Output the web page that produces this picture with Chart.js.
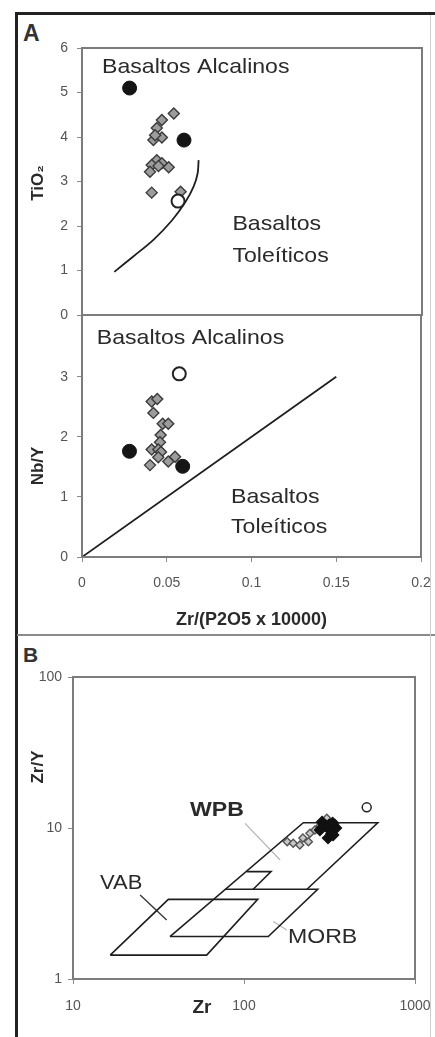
<!DOCTYPE html>
<html>
<head>
<meta charset="utf-8">
<script src="https://cdn.jsdelivr.net/npm/chart.js@4.4.1/dist/chart.umd.min.js"></script>
<style>
  body { margin: 0; background: #fff; }
  #page { position: relative; width: 435px; height: 1037px; overflow: hidden; font-family: "Liberation Sans", Arial, sans-serif; }
  #page canvas { position: absolute; left: 0; }
  .rule { position: absolute; background: #222; }
  .tag { position: absolute; font-weight: bold; color: #333; line-height: 1; }
</style>
</head>
<body>
<div id="page">
  <div class="rule" style="left:15px;top:12px;width:420px;height:3px"></div>
  <div class="rule" style="left:15px;top:12px;width:3px;height:1025px"></div>
  <div class="rule" style="left:17px;top:634px;width:418px;height:2px;background:#8a8a8a"></div>
  <div class="rule" style="left:430px;top:15px;width:1px;height:1022px;background:#cfcfcf"></div>
  <div class="tag" style="left:23px;top:22px;font-size:23px">A</div>
  <div class="tag" style="left:23px;top:644px;font-size:21px">B</div>
  <canvas id="cA1" width="435" height="330" style="top:0"></canvas>
  <canvas id="cA2" width="435" height="340" style="top:300px"></canvas>
  <canvas id="cB" width="435" height="397" style="top:640px"></canvas>
</div>
<script>
// ---- data: panel A (top) TiO2 vs Zr/(P2O5 x 10000)
const tiDiamondX = [0.054, 0.047, 0.044, 0.042, 0.047, 0.043, 0.044, 0.041, 0.040, 0.047, 0.051, 0.045, 0.041, 0.058]
const tiDiamondY = [4.53, 4.38, 4.20, 3.93, 3.99, 4.04, 3.48, 3.37, 3.22, 3.41, 3.32, 3.35, 2.75, 2.77]
const tiFilledX = [0.028, 0.060]
const tiFilledY = [5.10, 3.93]
const tiOpenX = [0.0565]
const tiOpenY = [2.56]
const tiCurveX = [0.019, 0.030, 0.042, 0.053, 0.061, 0.0657, 0.068, 0.0686]
const tiCurveY = [0.97, 1.31, 1.69, 2.13, 2.55, 2.89, 3.18, 3.48]
const tiTicks = [0, 1, 2, 3, 4, 5, 6]

// ---- data: panel A (bottom) Nb/Y vs Zr/(P2O5 x 10000)
const nbDiamondX = [0.0411, 0.0444, 0.0421, 0.0476, 0.0509, 0.0464, 0.046, 0.0411, 0.045, 0.0466, 0.045, 0.0401, 0.0509, 0.0549]
const nbDiamondY = [2.59, 2.63, 2.40, 2.22, 2.22, 2.03, 1.91, 1.79, 1.79, 1.75, 1.66, 1.53, 1.59, 1.67]
const nbFilledX = [0.028, 0.0594]
const nbFilledY = [1.76, 1.51]
const nbOpenX = [0.0574]
const nbOpenY = [3.05]
const nbLineX = [0, 0.15]
const nbLineY = [0, 3.0]
const nbTicks = [0, 1, 2, 3]
const ratioTicks = [0, 0.05, 0.1, 0.15, 0.2]

// ---- data: panel B Zr/Y vs Zr (log-log)
const zrDiamondX = [179, 194, 212, 221, 238, 243, 260, 278, 305, 341]
const zrDiamondY = [8.12, 7.92, 7.71, 8.59, 8.12, 9.22, 9.70, 10.3, 11.6, 10.7]
const zrBlackX = [286, 302, 319, 332, 310, 278, 345, 325, 315, 330]
const zrBlackY = [10.96, 10.3, 9.7, 8.99, 8.59, 9.7, 10.0, 9.2, 10.5, 10.8]
const zrOpenX = [522]
const zrOpenY = [13.7]
const wpbX = [36.9, 222.3, 605.6, 233.4]
const wpbY = [1.91, 10.84, 10.84, 3.93]
const morbX = [77.4, 269.8, 138.7, 36.9]
const morbY = [3.93, 3.93, 1.91, 1.91]
const morbTopX = [113.2, 143.9, 103.7]
const morbTopY = [3.93, 5.14, 5.14]
const vabX = [16.5, 60.5, 120.3, 36.1, 16.5]
const vabY = [1.44, 1.44, 3.37, 3.37, 1.44]
const wpbPointerX = [101.4, 162.6]
const wpbPointerY = [10.74, 6.14]
const vabPointerX = [24.7, 35.3]
const vabPointerY = [3.6, 2.46]
const morbPointerX = [148.3, 177.8]
const morbPointerY = [2.4, 2.11]
const zrTicks = [10, 100, 1000]
const zryTicks = [1, 10, 100]

const FONT = '"Liberation Sans", Arial, sans-serif'
const pts = (xs, ys) => xs.map((x, i) => ({ x, y: ys[i] }))

// frame + free text (stretched a bit like the scanned original)
const notesPlugin = {
  id: 'notes',
  afterDatasetsDraw(chart, args, opts) {
    const ctx = chart.ctx, a = chart.chartArea
    ctx.save()
    ctx.strokeStyle = '#7c7c7c'; ctx.lineWidth = 2
    ctx.strokeRect(a.left, a.top, a.right - a.left, a.bottom - a.top)
    ctx.textBaseline = 'middle'
    ;(opts.texts || []).forEach(t => {
      const x = chart.scales.x.getPixelForValue(t.x), y = chart.scales.y.getPixelForValue(t.y)
      ctx.font = `${t.bold ? 'bold ' : ''}${t.size}px ${FONT}`
      ctx.fillStyle = '#2a2a2a'; ctx.textAlign = 'left'
      ctx.save(); ctx.translate(x, y); ctx.scale(1.1, 1); ctx.fillText(t.text, 0, 0); ctx.restore()
    })
    ;(opts.titles || []).forEach(t => {
      ctx.font = `bold ${t.size}px ${FONT}`
      ctx.fillStyle = '#2a2a2a'; ctx.textAlign = 'center'
      ctx.save(); ctx.translate(t.px, t.py); ctx.rotate(t.rot || 0); ctx.fillText(t.text, 0, 0); ctx.restore()
    })
    ctx.restore()
  }
}

function tickGrid() { return { drawOnChartArea: false, drawTicks: true, tickLength: 5, color: '#8a8a8a', lineWidth: 1 } }
function fixedTicks(list) { return s => { s.ticks = list.map(v => ({ value: v })) } }
// pin the axis box size and drop the label overhang so the plot box lands where the original has it
function boxX(h) { return s => { s.height = h; s.paddingLeft = 0; s.paddingRight = 0 } }
function boxY(w) { return s => { s.width = w; s.paddingTop = 0; s.paddingBottom = 0 } }

const diamond = (data, r, fill, edge) => ({ data, pointStyle: 'rectRot', pointRadius: r, backgroundColor: fill, borderColor: edge, borderWidth: 1.4, showLine: false })
const circle = (data, r, fill, edge, w) => ({ data, pointStyle: 'circle', pointRadius: r, backgroundColor: fill, borderColor: edge, borderWidth: w, showLine: false })
const line = (data, color, w, tension) => ({ data, showLine: true, pointRadius: 0, borderColor: color, borderWidth: w, tension: tension || 0, fill: false })

const base = {
  responsive: false, animation: false, events: [],
  plugins: { legend: { display: false }, tooltip: { enabled: false } }
}

// ---- panel A, top
new Chart(document.getElementById('cA1'), {
  type: 'scatter',
  data: {
    datasets: [
      circle(pts(tiFilledX, tiFilledY), 7, '#151515', '#151515', 1),
      circle(pts(tiOpenX, tiOpenY), 6.5, '#ffffff', '#222', 2),
      diamond(pts(tiDiamondX, tiDiamondY), 5.5, '#9c9c9c', '#3a3a3a'),
      line(pts(tiCurveX, tiCurveY), '#1e1e1e', 1.8, 0.3)
    ]
  },
  options: {
    ...base,
    layout: { padding: { left: 0, top: 48, right: 13, bottom: 15 } },
    scales: {
      x: { type: 'linear', display: false, min: 0, max: 0.2 },
      y: {
        type: 'linear', min: 0, max: 6, afterFit: boxY(82), afterBuildTicks: fixedTicks(tiTicks),
        ticks: { font: { family: FONT, size: 14 }, color: '#555', padding: 9, callback: v => String(v) },
        grid: tickGrid(), border: { display: false }
      }
    },
    plugins: {
      ...base.plugins,
      notes: {
        texts: [
          { text: 'Basaltos Alcalinos', x: 0.0118, y: 5.57, size: 21 },
          { text: 'Basaltos', x: 0.0885, y: 2.04, size: 21 },
          { text: 'Toleíticos', x: 0.0885, y: 1.33, size: 21 }
        ],
        titles: [{ text: 'TiO₂', px: 38, py: 183, rot: -Math.PI / 2, size: 17 }]
      }
    }
  },
  plugins: [notesPlugin]
})

// ---- panel A, bottom
new Chart(document.getElementById('cA2'), {
  type: 'scatter',
  data: {
    datasets: [
      circle(pts(nbFilledX, nbFilledY), 7, '#151515', '#151515', 1),
      circle(pts(nbOpenX, nbOpenY), 6.5, '#ffffff', '#222', 2),
      diamond(pts(nbDiamondX, nbDiamondY), 5.5, '#9c9c9c', '#3a3a3a'),
      line(pts(nbLineX, nbLineY), '#1e1e1e', 1.8)
    ]
  },
  options: {
    ...base,
    layout: { padding: { left: 0, top: 15, right: 14, bottom: 0 } },
    scales: {
      x: {
        type: 'linear', min: 0, max: 0.2, afterFit: boxX(83), afterBuildTicks: fixedTicks(ratioTicks),
        ticks: { font: { family: FONT, size: 14 }, color: '#555', padding: 13, maxRotation: 0, callback: v => String(v) },
        grid: tickGrid(), border: { display: false },
        title: { display: true, text: 'Zr/(P2O5 x 10000)', color: '#2a2a2a', font: { family: FONT, size: 18, weight: 'bold' }, padding: { top: 0, bottom: 9 } }
      },
      y: {
        type: 'linear', min: 0, max: 4.03, afterFit: boxY(82), afterBuildTicks: fixedTicks(nbTicks),
        ticks: { font: { family: FONT, size: 14 }, color: '#555', padding: 9, callback: v => String(v) },
        grid: tickGrid(), border: { display: false }
      }
    },
    plugins: {
      ...base.plugins,
      notes: {
        texts: [
          { text: 'Basaltos Alcalinos', x: 0.0087, y: 3.65, size: 21 },
          { text: 'Basaltos', x: 0.0879, y: 1.0, size: 21 },
          { text: 'Toleíticos', x: 0.0879, y: 0.5, size: 21 }
        ],
        titles: [{ text: 'Nb/Y', px: 38, py: 166, rot: -Math.PI / 2, size: 17 }]
      }
    }
  },
  plugins: [notesPlugin]
})

// ---- panel B
new Chart(document.getElementById('cB'), {
  type: 'scatter',
  data: {
    datasets: [
      circle(pts(zrOpenX, zrOpenY), 4.5, '#ffffff', '#222', 1.5),
      diamond(pts(zrBlackX, zrBlackY), 5.5, '#111', '#111'),
      diamond(pts(zrDiamondX, zrDiamondY), 4, '#c8c8c8', '#555'),
      line(pts(wpbX, wpbY), '#1e1e1e', 1.6),
      line(pts(morbX, morbY), '#1e1e1e', 1.6),
      line(pts(morbTopX, morbTopY), '#1e1e1e', 1.6),
      line(pts(vabX, vabY), '#1e1e1e', 1.6),
      line(pts(wpbPointerX, wpbPointerY), '#b4b4b4', 1.2),
      line(pts(vabPointerX, vabPointerY), '#333', 1.3),
      line(pts(morbPointerX, morbPointerY), '#b4b4b4', 1.2)
    ]
  },
  options: {
    ...base,
    layout: { padding: { left: 0, top: 37, right: 20, bottom: 0 } },
    scales: {
      x: {
        type: 'logarithmic', min: 10, max: 1000, afterFit: boxX(58), afterBuildTicks: fixedTicks(zrTicks),
        ticks: { font: { family: FONT, size: 14 }, color: '#555', padding: 14, maxRotation: 0, callback: v => String(v) },
        grid: tickGrid(), border: { display: false }
      },
      y: {
        type: 'logarithmic', min: 1, max: 100, afterFit: boxY(73), afterBuildTicks: fixedTicks(zryTicks),
        ticks: { font: { family: FONT, size: 14 }, color: '#555', padding: 6, callback: v => String(v) },
        grid: tickGrid(), border: { display: false }
      }
    },
    plugins: {
      ...base.plugins,
      notes: {
        texts: [
          { text: 'WPB', x: 48.3, y: 13.2, size: 21, bold: true },
          { text: 'VAB', x: 14.4, y: 4.32, size: 20 },
          { text: 'MORB', x: 180.7, y: 1.90, size: 21 }
        ],
        titles: [
          { text: 'Zr/Y', px: 38, py: 127, rot: -Math.PI / 2, size: 17 },
          { text: 'Zr', px: 202, py: 368, rot: 0, size: 19 }
        ]
      }
    }
  },
  plugins: [notesPlugin]
})
</script>
</body>
</html>
